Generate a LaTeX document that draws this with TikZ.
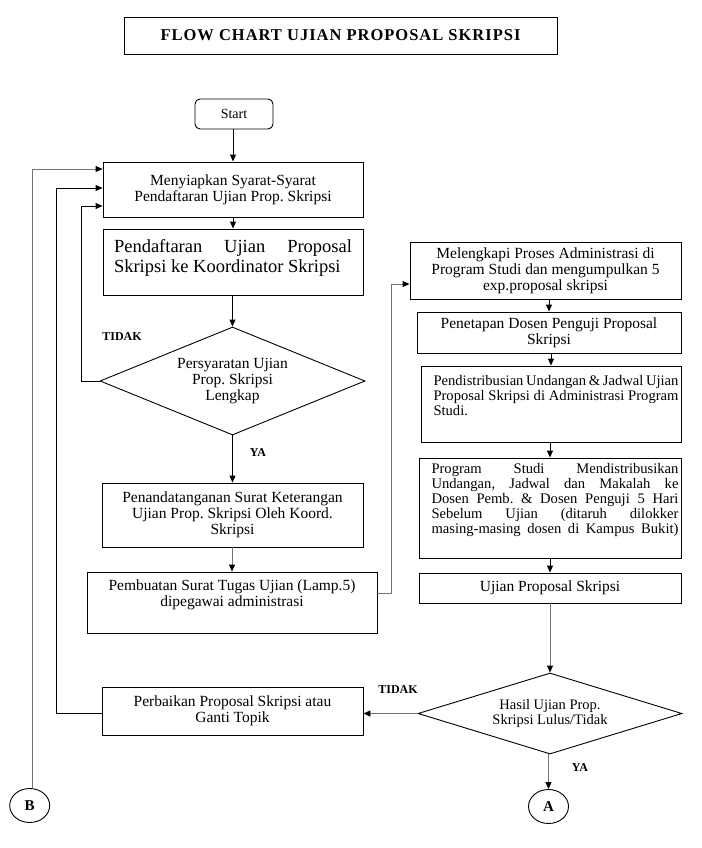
\documentclass[tikz,border=0pt]{standalone}
\usepackage{fontspec}
\setmainfont{Liberation Serif}
\usetikzlibrary{shapes.geometric,arrows.meta}
\frenchspacing

\newcommand{\toptext}[3]{\parbox[c][#2][t]{#1}{#3}}

\begin{document}
\begin{tikzpicture}[x=1pt, y=-1pt, line width=0.9pt,
    box/.style={draw, rectangle, inner sep=0pt, align=center, font=\fontsize{15.5}{16}\selectfont},
    decision/.style={draw, diamond, inner sep=0pt, align=center, font=\fontsize{15.5}{16}\selectfont},
    connector/.style={draw, ellipse, minimum width=40pt, minimum height=34pt, font=\fontsize{15}{16}\selectfont\bfseries},
    answer/.style={font=\fontsize{12}{14}\selectfont\bfseries},
    arrow/.style={-{Triangle[length=7pt,width=6pt,color=black]}}]
\def \grey{black!55};
\useasboundingbox (0,0) rectangle (701,848);

\node[box, minimum width=433pt, minimum height=37pt, font=\fontsize{16.5}{18}\selectfont\bfseries\addfontfeature{LetterSpace=6}] (title) at (340.5,35.5) {FLOW CHART UJIAN PROPOSAL SKRIPSI};

\node[box, rounded corners=5pt, minimum width=78pt, minimum height=30pt, font=\fontsize{14}{16}\selectfont] (start) at (234,114) {Start};
\node[box, minimum width=260pt, minimum height=55pt] (syarat) at (233,189.5) {Menyiapkan Syarat-Syarat\\Pendaftaran Ujian Prop. Skripsi};
\node[box, inner xsep=11pt, inner ysep=10.5pt, font=\fontsize{18.5}{20}\selectfont] (daftar) at (233,262) {\toptext{238pt}{45pt}{Pendaftaran Ujian Proposal\linebreak Skripsi ke Koordinator Skripsi}};
\node[decision, aspect=2.45, minimum width=265pt, minimum height=108pt] (lengkap) at (232.5,381) {Persyaratan Ujian\\Prop. Skripsi\\Lengkap};
\node[box, minimum width=261pt, minimum height=64pt] (ttd) at (232.5,515) {Penandatanganan Surat Keterangan\\Ujian Prop. Skripsi Oleh Koord.\\Skripsi};
\node[box, inner xsep=5pt, inner ysep=7.5pt] (tugas) at (232,602.5) {\toptext{280pt}{46pt}{\centering Pembuatan Surat Tugas Ujian (Lamp.5)\\dipegawai administrasi}};
\node[box, minimum width=261pt, minimum height=48pt] (perbaikan) at (232.5,711) {Perbaikan Proposal Skripsi atau\\Ganti Topik};

\node[box, minimum width=271pt, minimum height=57pt] (admin) at (545.5,270.5) {Melengkapi Proses Administrasi di\\Program Studi dan mengumpulkan 5\\exp.proposal skripsi};
\node[box, minimum width=264pt, minimum height=41pt] (penguji) at (549,332.5) {Penetapan Dosen Penguji Proposal\\Skripsi};
\node[box, inner xsep=2.5pt, inner ysep=9pt, font=\fontsize{14.6}{15}\selectfont] (distribusi) at (551,404) {\hspace*{10pt}\toptext{245pt}{58pt}{Pendistribusian Undangan \& Jadwal Ujian\linebreak Proposal Skripsi di Administrasi Program\linebreak Studi.}};
\node[box, inner xsep=2.5pt, inner ysep=5pt, font=\fontsize{14.6}{15}\selectfont] (undangan) at (550,508) {\hspace*{10pt}\toptext{247pt}{90pt}{\parfillskip=0pt Program Studi Mendistribusikan\linebreak Undangan, Jadwal dan Makalah ke\linebreak Dosen Pemb. \& Dosen Penguji 5 Hari\linebreak Sebelum Ujian (ditaruh dilokker\linebreak masing-masing dosen di Kampus Bukit)}};
\node[box, minimum width=262pt, minimum height=30pt] (ujian) at (550,588) {Ujian Proposal Skripsi};
\node[decision, aspect=3.26, minimum width=264pt, minimum height=81pt, font=\fontsize{14.5}{15.5}\selectfont] (hasil) at (550,713.5) {Hasil Ujian Prop.\\Skripsi Lulus/Tidak};

\node[connector] (A) at (548.5,806.5) {A};
\node[connector] (B) at (29.7,805.5) {B};

\node[answer] (tidak1) at (122,337) {TIDAK};
\node[answer] (ya1) at (258,453) {YA};
\node[answer] (tidak2) at (398,690) {TIDAK};
\node[answer] (ya2) at (580,768) {YA};

\foreach \a/\b/\c in {start/syarat/black, syarat/daftar/black, daftar/lengkap/black, lengkap/ttd/black, ttd/tugas/\grey,
    admin/penguji/black, penguji/distribusi/black, distribusi/undangan/black, undangan/ujian/black, ujian/hasil/\grey, hasil/A/\grey} {
    \draw[arrow, draw=\c] (\a.south -| \b.north) -- (\b.north);
}
\draw[arrow, draw=\grey] (hasil.west) -- (hasil.west -| perbaikan.east);
\draw[arrow, draw=\grey] ([yshift=9.5pt]tugas.east) -- ++(14,0) |- ([yshift=-13.5pt]admin.west);
\draw[arrow] (lengkap.west) -- ++(-18,0) |- ([yshift=-16.5pt]syarat.west);
\draw[arrow] (perbaikan.west |- hasil.west) -- ++(-45,0) |- ([yshift=1.5pt]syarat.west);
\draw[arrow, draw=\grey] ([xshift=2.3pt]B.north) |- ([yshift=20.5pt]syarat.west);
\end{tikzpicture}
\end{document}
